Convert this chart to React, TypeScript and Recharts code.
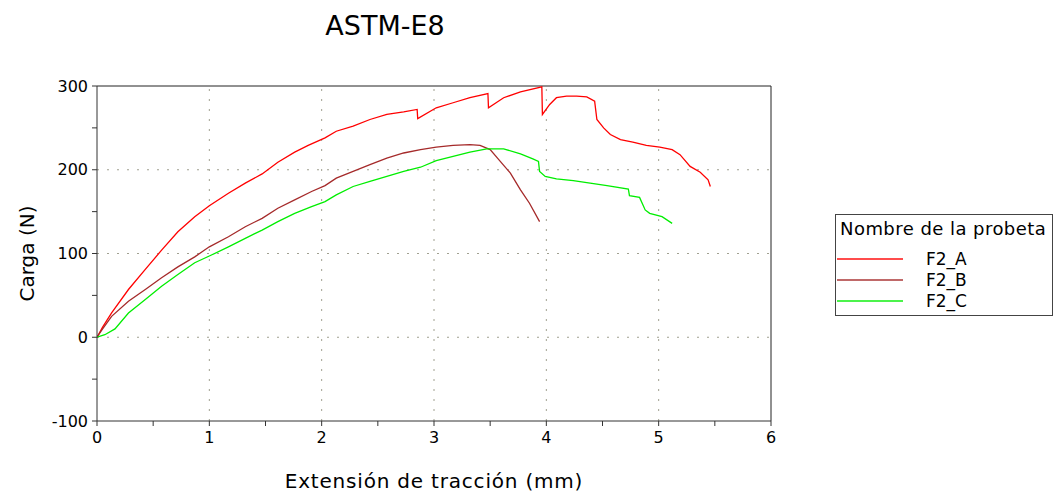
import { LineChart, Line, XAxis, YAxis, ReferenceLine } from 'recharts'

// extension (mm) / load (N), per specimen
const F2_A_X = [0, 0.05, 0.13, 0.28, 0.43, 0.575, 0.72, 0.87, 1.0, 1.17, 1.32, 1.47, 1.61, 1.76, 1.88, 2.03, 2.13, 2.28, 2.43, 2.58, 2.73, 2.85, 2.855, 3.02, 3.17, 3.32, 3.48, 3.485, 3.62, 3.77, 3.96, 3.965, 4.03, 4.09, 4.18, 4.27, 4.36, 4.43, 4.45, 4.51, 4.57, 4.66, 4.77, 4.89, 5.01, 5.12, 5.19, 5.28, 5.37, 5.44, 5.46]
const F2_A_Y = [0, 12, 29, 57, 81, 104, 126, 144, 157, 172, 184, 195, 209, 221, 229, 238, 246, 252, 260, 266, 269, 272, 261, 274, 280, 286, 291, 274, 286, 293, 299, 266, 278, 286, 288, 288, 287, 282, 260, 250, 242, 236, 233, 229, 227, 224, 218, 204, 197, 188, 180]

const F2_B_X = [0, 0.05, 0.13, 0.28, 0.43, 0.575, 0.72, 0.87, 1.0, 1.17, 1.32, 1.47, 1.61, 1.76, 1.91, 2.03, 2.13, 2.28, 2.43, 2.58, 2.73, 2.88, 3.02, 3.17, 3.32, 3.41, 3.5, 3.59, 3.68, 3.77, 3.85, 3.94]
const F2_B_Y = [0, 10, 25, 43, 57, 71, 84, 96, 108, 120, 132, 142, 154, 164, 174, 181, 190, 198, 206, 214, 220, 224, 227, 229, 230, 229, 224, 210, 196, 176, 160, 138]

const F2_C_X = [0, 0.07, 0.16, 0.28, 0.43, 0.575, 0.72, 0.87, 1.0, 1.17, 1.32, 1.47, 1.61, 1.76, 1.91, 2.03, 2.13, 2.28, 2.43, 2.58, 2.73, 2.88, 3.02, 3.17, 3.32, 3.47, 3.62, 3.77, 3.88, 3.93, 3.94, 3.99, 4.09, 4.24, 4.39, 4.54, 4.73, 4.74, 4.83, 4.88, 4.92, 5.03, 5.12]
const F2_C_Y = [0, 3, 10, 29, 45, 61, 75, 89, 97, 108, 118, 128, 138, 148, 156, 162, 170, 180, 186, 192, 198, 203, 211, 216, 221, 225, 225, 219, 213, 210, 198, 192, 189, 187, 184, 181, 177, 169, 167, 152, 148, 144, 136]

const SERIES_NAMES = ['F2_A', 'F2_B', 'F2_C']
const SERIES_COLORS = ['#ff0000', '#a52a2a', '#00ee00']

const X_TICKS = [0, 0.5, 1, 1.5, 2, 2.5, 3, 3.5, 4, 4.5, 5, 5.5, 6]
const Y_TICKS = [-100, -50, 0, 50, 100, 150, 200, 250, 300]
const X_GRID = [1, 2, 3, 4, 5]
const Y_GRID = [0, 100, 200]

const TITLE = 'ASTM-E8'
const X_TITLE = 'Extensión de tracción (mm)'
const Y_TITLE = 'Carga (N)'
const LEGEND_TITLE = 'Nombre de la probeta'

const FONT = 'DejaVu Sans'

const toPoints = (xs: number[], ys: number[]) => xs.map((x, i) => ({ x, y: ys[i] }))

const seriesData = [
  toPoints(F2_A_X, F2_A_Y),
  toPoints(F2_B_X, F2_B_Y),
  toPoints(F2_C_X, F2_C_Y),
]

export default function App() {
  return (
    <div style={{ position: 'absolute', left: 0, top: 0, width: 1054, height: 496, background: '#fff', fontFamily: FONT }}>
      <div style={{ position: 'absolute', left: 285, top: 12, width: 200, textAlign: 'center', fontSize: 27, lineHeight: '27px', color: '#000' }}>
        {TITLE}
      </div>

      <LineChart width={1054} height={496} margin={{ top: 86, right: 283, bottom: 0, left: 0 }}>
        <XAxis
          type="number"
          dataKey="x"
          domain={[0, 6]}
          ticks={X_TICKS}
          allowDataOverflow
          height={75}
          stroke="#333"
          tickSize={5}
          tickMargin={6}
          tick={{ fill: '#000', fontSize: 16, fontFamily: FONT }}
          tickFormatter={(v: number) => (v % 1 === 0 ? String(v) : '')}
          label={{ value: X_TITLE, position: 'insideBottom', offset: 8, fill: '#000', fontSize: 20, fontFamily: FONT, style: { letterSpacing: '0.8px' } }}
        />
        <YAxis
          type="number"
          dataKey="y"
          domain={[-100, 300]}
          ticks={Y_TICKS}
          allowDataOverflow
          width={97}
          stroke="#333"
          tickSize={5}
          tickMargin={4}
          tick={{ fill: '#000', fontSize: 16, fontFamily: FONT }}
          tickFormatter={(v: number) => (v % 100 === 0 ? String(v) : '')}
          label={{ value: Y_TITLE, angle: -90, position: 'insideLeft', offset: 27, fill: '#000', fontSize: 20, fontFamily: FONT, style: { textAnchor: 'middle' } }}
        />

        {X_GRID.map((v) => (
          <ReferenceLine key={'gx' + v} x={v} stroke="#a0a090" strokeDasharray="2 8" />
        ))}
        {Y_GRID.map((v) => (
          <ReferenceLine key={'gy' + v} y={v} stroke="#a0a090" strokeDasharray="2 8" />
        ))}
        {/* frame on top and right */}
        <ReferenceLine y={300} stroke="#222" />
        <ReferenceLine x={6} stroke="#222" />

        {seriesData.map((d, i) => (
          <Line
            key={SERIES_NAMES[i]}
            data={d}
            dataKey="y"
            name={SERIES_NAMES[i]}
            type="linear"
            stroke={SERIES_COLORS[i]}
            strokeWidth={1.3}
            dot={false}
            isAnimationActive={false}
          />
        ))}
      </LineChart>

      <div style={{ position: 'absolute', left: 835, top: 214, width: 218, height: 102, border: '1px solid #444', boxSizing: 'border-box', color: '#000' }}>
        <div style={{ position: 'absolute', left: 4, top: 4, fontSize: 18, lineHeight: '20px', letterSpacing: '0.45px', whiteSpace: 'nowrap' }}>
          {LEGEND_TITLE}
        </div>
        {SERIES_NAMES.map((name, i) => (
          <div key={name} style={{ position: 'absolute', left: 0, top: 34 + i * 21, height: 20, width: 200 }}>
            <div style={{ position: 'absolute', left: 1, top: 9, width: 66, height: 2, background: SERIES_COLORS[i], opacity: 0.7 }} />
            <div style={{ position: 'absolute', left: 90, top: 0, fontSize: 17, lineHeight: '20px' }}>{name}</div>
          </div>
        ))}
      </div>
    </div>
  )
}
